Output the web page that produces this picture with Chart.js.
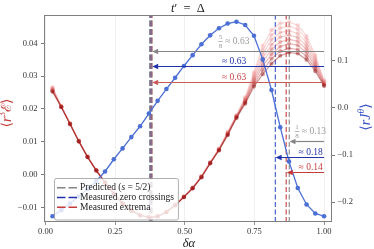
<!DOCTYPE html>
<html>
<head>
<meta charset="utf-8">
<script src="https://cdn.jsdelivr.net/npm/chart.js@4.4.1/dist/chart.umd.min.js"></script>
<style>
  html, body { margin: 0; padding: 0; background: #fff; }
</style>
</head>
<body>
<canvas id="chart" width="374" height="249"></canvas>
<script>
// --- data ---
const deltaAlpha = [0.0250, 0.0565, 0.0879, 0.1194, 0.1508, 0.1823, 0.2137, 0.2452, 0.2766, 0.3081,
  0.3395, 0.3710, 0.4024, 0.4339, 0.4653, 0.4968, 0.5282, 0.5597, 0.5911, 0.6226,
  0.6540, 0.6855, 0.7169, 0.7484, 0.7798, 0.8113, 0.8427, 0.8742, 0.9056, 0.9371, 0.9685, 1.0000];

// <r J^theta>, right axis
const jTheta = [-0.230, -0.217, -0.203, -0.188, -0.172, -0.155, -0.135, -0.109, -0.086, -0.062,
  -0.039, -0.012, 0.015, 0.040, 0.064, 0.089, 0.112, 0.135, 0.154, 0.169,
  0.179, 0.183, 0.176, 0.153, 0.103, 0.038, -0.041, -0.114, -0.170, -0.205, -0.224, -0.230];

// <r^3 E>, left axis, lightest -> darkest
const energy1 = [0.0266, 0.0209, 0.0156, 0.0103, 0.0055, 0.0014, -0.0023, -0.0057, -0.0087, -0.0109, -0.0123, -0.0129, -0.0126, -0.0113, -0.0092, -0.0067, -0.0040, -0.0005, 0.0037, 0.0079, 0.0130, 0.0181, 0.0236, 0.0312, 0.0392, 0.0440, 0.0461, 0.0465, 0.0455, 0.0422, 0.0364, 0.0287];
const energy2 = [0.0264, 0.0208, 0.0156, 0.0103, 0.0055, 0.0014, -0.0023, -0.0057, -0.0087, -0.0109, -0.0123, -0.0129, -0.0126, -0.0113, -0.0092, -0.0067, -0.0040, -0.0006, 0.0037, 0.0078, 0.0129, 0.0180, 0.0233, 0.0306, 0.0380, 0.0425, 0.0447, 0.0452, 0.0443, 0.0412, 0.0357, 0.0285];
const energy3 = [0.0262, 0.0208, 0.0155, 0.0102, 0.0054, 0.0013, -0.0024, -0.0058, -0.0088, -0.0110, -0.0124, -0.0130, -0.0127, -0.0114, -0.0093, -0.0068, -0.0041, -0.0006, 0.0036, 0.0077, 0.0127, 0.0178, 0.0230, 0.0299, 0.0367, 0.0411, 0.0433, 0.0438, 0.0430, 0.0401, 0.0350, 0.0282];
const energy4 = [0.0260, 0.0207, 0.0155, 0.0102, 0.0054, 0.0013, -0.0024, -0.0058, -0.0088, -0.0110, -0.0124, -0.0130, -0.0127, -0.0114, -0.0093, -0.0068, -0.0041, -0.0007, 0.0036, 0.0076, 0.0126, 0.0177, 0.0227, 0.0293, 0.0355, 0.0396, 0.0419, 0.0425, 0.0418, 0.0391, 0.0343, 0.0280];
const energy5 = [0.0258, 0.0207, 0.0155, 0.0102, 0.0054, 0.0013, -0.0024, -0.0058, -0.0088, -0.0110, -0.0124, -0.0130, -0.0127, -0.0114, -0.0093, -0.0068, -0.0041, -0.0007, 0.0035, 0.0076, 0.0124, 0.0176, 0.0225, 0.0287, 0.0343, 0.0382, 0.0404, 0.0412, 0.0406, 0.0381, 0.0336, 0.0277];
const energy6 = [0.0256, 0.0206, 0.0154, 0.0101, 0.0053, 0.0012, -0.0025, -0.0059, -0.0089, -0.0111, -0.0125, -0.0131, -0.0128, -0.0115, -0.0094, -0.0069, -0.0042, -0.0008, 0.0035, 0.0075, 0.0123, 0.0175, 0.0222, 0.0281, 0.0331, 0.0367, 0.0390, 0.0399, 0.0394, 0.0371, 0.0329, 0.0275];
const energy7 = [0.0254, 0.0206, 0.0154, 0.0101, 0.0053, 0.0012, -0.0025, -0.0059, -0.0089, -0.0111, -0.0125, -0.0131, -0.0128, -0.0115, -0.0094, -0.0069, -0.0042, -0.0008, 0.0034, 0.0074, 0.0121, 0.0174, 0.0219, 0.0274, 0.0318, 0.0353, 0.0376, 0.0385, 0.0381, 0.0360, 0.0322, 0.0272];
const energy8 = [0.0252, 0.0205, 0.0153, 0.0101, 0.0053, 0.0012, -0.0025, -0.0059, -0.0089, -0.0111, -0.0125, -0.0131, -0.0128, -0.0115, -0.0094, -0.0069, -0.0042, -0.0009, 0.0034, 0.0073, 0.0120, 0.0172, 0.0216, 0.0268, 0.0306, 0.0338, 0.0362, 0.0372, 0.0369, 0.0350, 0.0315, 0.0270];

// vertical markers (x positions)
const predictedX = [0.378, 0.875];
const zeroCrossX = [0.378, 0.825];
const extremaX = [0.381, 0.864];

// distance arrows: from x=1 back to the marker, y in left-axis units
const arrowY = [0.0377, 0.0331, 0.0283, 0.0103, 0.0054, 0.0009];
const arrowTo = [0.383, 0.383, 0.383, 0.876, 0.826, 0.866];
const arrowText = ['≈ 0.63', '≈ 0.63', '≈ 0.63', '≈ 0.13', '≈ 0.18', '≈ 0.14'];
const arrowFrac = [['5', '8'], null, null, ['1', '8'], null, null];
const arrowLabelX = [0.677, 0.677, 0.677, 0.952, 0.952, 0.952];

// tick labels
const xTicks = [0, 0.25, 0.5, 0.75, 1];
const xTickLabels = ['0.00', '0.25', '0.50', '0.75', '1.00'];
const yTicks = [-0.01, 0, 0.01, 0.02, 0.03, 0.04];
const yTickLabels = ['\u22120.01', '0.00', '0.01', '0.02', '0.03', '0.04'];
const y2Ticks = [-0.2, -0.1, 0, 0.1];
const y2TickLabels = ['\u22120.2', '\u22120.1', '0.0', '0.1'];

const legendItems = [
    [['Predicted (', false], ['s', true], [' = 5/2)', false]],
    [['Measured zero crossings', false]],
    [['Measured extrema', false]]
];

// --- styling ---
const SERIF = "'Liberation Serif', 'DejaVu Serif', serif";
const GREY = '#858585';
const BLUE_DARK = '#2233aa';
const BLUE = '#4b6fd5';
const RED = '#c63a3a';
const redShades = ['rgba(246,178,178,0.55)', 'rgba(240,160,160,0.45)', 'rgba(232,140,140,0.42)', 'rgba(223,116,116,0.4)',
    'rgba(212,92,92,0.4)', 'rgba(197,68,68,0.4)', 'rgba(176,42,42,0.4)', 'rgba(142,12,12,0.45)'];

const X_MIN = -0.0055, X_MAX = 1.0285;
const Y_MIN = -0.01448, Y_MAX = 0.04863;
const Y2_MIN = -0.2422, Y2_MAX = 0.1972;

const toPts = ys => deltaAlpha.map((x, i) => ({ x: x, y: ys[i] }));

const datasets = [];
datasets.push({
    data: toPts(jTheta), yAxisID: 'y2', showLine: true,
    borderColor: BLUE, backgroundColor: BLUE, borderWidth: 1.3,
    pointRadius: 2.3, pointBorderWidth: 0, order: 0
});
[energy1, energy2, energy3, energy4, energy5, energy6, energy7, energy8].forEach((e, j) => {
    datasets.push({
        data: toPts(e), yAxisID: 'y', showLine: true,
        borderColor: redShades[j], backgroundColor: redShades[j], borderWidth: 1.1,
        pointRadius: 2.1, pointBorderWidth: 0, order: 8 - j
    });
});

function vline(x, color, width, dash, order) {
    return {
        data: [{ x: x, y: Y_MIN }, { x: x, y: Y_MAX }], yAxisID: 'y', showLine: true,
        borderColor: color, borderWidth: width, borderDash: dash, pointRadius: 0, order: order
    };
}
datasets.push(vline(predictedX[0], 'rgba(128,128,128,0.9)', 3.5, [6, 2.5], 22));
datasets.push(vline(zeroCrossX[0], 'rgba(70,90,200,0.45)', 2, [6, 2.5], 21));
datasets.push(vline(extremaX[0], 'rgba(200,70,70,0.4)', 2, [6, 2.5], 20));
datasets.push(vline(zeroCrossX[1], '#3a58cc', 1.1, [5, 2.5], 20));
datasets.push(vline(extremaX[1], '#c83c3c', 1.1, [5, 2.5], 20));
datasets.push(vline(predictedX[1], GREY, 1.1, [5, 2.5], 20));

function drawPieces(ctx, pieces, x, y) {
    const widths = pieces.map(p => {
        ctx.font = (p[2] ? 'italic ' : '') + p[1] + 'px ' + SERIF;
        return ctx.measureText(p[0]).width;
    });
    let cx = x - widths.reduce((s, w) => s + w, 0) / 2;
    pieces.forEach((p, i) => {
        ctx.font = (p[2] ? 'italic ' : '') + p[1] + 'px ' + SERIF;
        ctx.fillText(p[0], cx, y + (p[3] || 0));
        cx += widths[i];
    });
}

const overlay = {
    id: 'overlay',
    afterDraw(chart) {
        const { ctx, chartArea: a, scales } = chart;
        const px = v => scales.x.getPixelForValue(v);
        const py = v => scales.y.getPixelForValue(v);
        ctx.save();

        // frame
        ctx.strokeStyle = '#808080';
        ctx.lineWidth = 1;
        ctx.strokeRect(a.left + 0.5, a.top + 0.5, a.right - a.left - 1, a.bottom - a.top - 1);

        // arrows + labels
        const colors = [GREY, BLUE_DARK, '#c85a5a', GREY, BLUE_DARK, RED];
        const labelColors = ['#9a9a9a', BLUE_DARK, '#c84848', '#9a9a9a', BLUE_DARK, '#c84040'];
        ctx.textBaseline = 'middle';
        arrowY.forEach((v, i) => {
            const y = Math.round(py(v)) + 0.5;
            const x0 = px(1.0), x1 = px(arrowTo[i]);
            ctx.strokeStyle = colors[i];
            ctx.fillStyle = colors[i];
            ctx.lineWidth = 1.2;
            ctx.beginPath();
            ctx.moveTo(x0, y);
            ctx.lineTo(x1 + 5, y);
            ctx.stroke();
            ctx.beginPath();
            ctx.moveTo(x1, y);
            ctx.lineTo(x1 + 6, y - 2.7);
            ctx.lineTo(x1 + 6, y + 2.7);
            ctx.closePath();
            ctx.fill();

            const frac = arrowFrac[i];
            const cy = y - (frac ? 10 : 5.5);
            ctx.fillStyle = labelColors[i];
            ctx.font = '9.5px ' + SERIF;
            const tw = ctx.measureText(arrowText[i]).width;
            let fw = 0;
            if (frac) {
                ctx.font = '7px ' + SERIF;
                fw = Math.max(ctx.measureText(frac[0]).width, ctx.measureText(frac[1]).width) + 3;
            }
            const sx = px(arrowLabelX[i]) - (fw + tw) / 2;
            if (frac) {
                const fx = sx + (fw - 3) / 2;
                ctx.textAlign = 'center';
                ctx.fillText(frac[0], fx, cy - 4.3);
                ctx.fillText(frac[1], fx, cy + 4.7);
                ctx.fillRect(fx - 2.3, cy - 0.3, 4.6, 0.7);
            }
            ctx.textAlign = 'left';
            ctx.font = '9.5px ' + SERIF;
            ctx.fillText(arrowText[i], sx + fw, cy);
        });

        // legend
        const lx = a.left + 10, lBottom = a.bottom - 2.5, lTop = lBottom - 41.5;
        let maxW = 0;
        legendItems.forEach(parts => {
            let w = 0;
            parts.forEach(p => { ctx.font = (p[1] ? 'italic ' : '') + '9.5px ' + SERIF; w += ctx.measureText(p[0]).width; });
            maxW = Math.max(maxW, w);
        });
        const lw = 26 + maxW + 4;
        ctx.beginPath();
        ctx.roundRect(lx + 0.5, lTop + 0.5, lw, lBottom - lTop, 2);
        ctx.fillStyle = 'rgba(255,255,255,0.82)';
        ctx.fill();
        ctx.strokeStyle = '#9a9a9a';
        ctx.lineWidth = 0.8;
        ctx.stroke();
        const legendColors = [GREY, BLUE_DARK, RED];
        legendItems.forEach((parts, i) => {
            const ry = lTop + 9.7 + i * 9.8;
            ctx.strokeStyle = legendColors[i];
            ctx.lineWidth = 1.5;
            ctx.setLineDash([8.5, 3]);
            ctx.beginPath();
            ctx.moveTo(lx + 3, ry);
            ctx.lineTo(lx + 23, ry);
            ctx.stroke();
            ctx.setLineDash([]);
            ctx.fillStyle = '#222';
            let tx = lx + 26;
            parts.forEach(p => {
                ctx.font = (p[1] ? 'italic ' : '') + '9.5px ' + SERIF;
                ctx.fillText(p[0], tx, ry);
                tx += ctx.measureText(p[0]).width;
            });
        });

        // title and axis titles
        const midX = (a.left + a.right) / 2;
        ctx.fillStyle = '#222';
        drawPieces(ctx, [['t', 12.5, true], ['\u2032', 12.5, false], ['\u2002=\u2002\u0394', 12.5, false]], midX, 8.5);
        drawPieces(ctx, [['\u03b4\u03b1', 12.5, true]], midX + 1, 243.5);

        ctx.fillStyle = '#c43c3c';
        ctx.save();
        ctx.translate(7, 113);
        ctx.rotate(-Math.PI / 2);
        drawPieces(ctx, [['\u27e8', 14, false], ['r', 14, true], ['3', 9.5, false, -4.5], ['\u2130', 14, false], ['\u27e9', 14, false]], 0, 0);
        ctx.restore();

        ctx.fillStyle = '#3550c8';
        ctx.save();
        ctx.translate(366, 117);
        ctx.rotate(-Math.PI / 2);
        drawPieces(ctx, [['\u27e8', 14, false], ['rJ', 14, true], ['\u03b8', 9.5, true, -4.5], ['\u27e9', 14, false]], 0, 0);
        ctx.restore();

        ctx.restore();
    }
};

const tickFont = { family: SERIF, size: 8.5 };

new Chart(document.getElementById('chart'), {
    type: 'scatter',
    data: { datasets: datasets },
    options: {
        responsive: false,
        animation: false,
        events: [],
        layout: { padding: { top: 15, left: 0, right: 0, bottom: 0 } },
        plugins: { legend: { display: false }, tooltip: { enabled: false } },
        scales: {
            x: {
                type: 'linear', min: X_MIN, max: X_MAX,
                afterBuildTicks: s => { s.ticks = xTicks.map(v => ({ value: v })); },
                afterFit: s => { s.height = 27; },
                ticks: { callback: (v, i) => xTickLabels[i], maxRotation: 0, autoSkip: false, padding: 2, font: tickFont, color: '#333' },
                grid: { color: '#ececec', lineWidth: 0.8, tickColor: '#777', tickLength: 3 },
                border: { display: false }
            },
            y: {
                type: 'linear', position: 'left', min: Y_MIN, max: Y_MAX,
                afterBuildTicks: s => { s.ticks = yTicks.map(v => ({ value: v })); },
                afterFit: s => { s.width = 44; },
                ticks: { callback: (v, i) => yTickLabels[i], autoSkip: false, padding: 3.5, font: tickFont, color: '#333' },
                grid: { drawOnChartArea: false, tickColor: '#777', tickLength: 3 },
                border: { display: false }
            },
            y2: {
                type: 'linear', position: 'right', min: Y2_MIN, max: Y2_MAX,
                afterBuildTicks: s => { s.ticks = y2Ticks.map(v => ({ value: v })); },
                afterFit: s => { s.width = 42; },
                ticks: { callback: (v, i) => y2TickLabels[i], autoSkip: false, padding: 2.5, font: tickFont, color: '#333' },
                grid: { drawOnChartArea: false, tickColor: '#777', tickLength: 3 },
                border: { display: false }
            }
        }
    },
    plugins: [overlay]
});
</script>
</body>
</html>
